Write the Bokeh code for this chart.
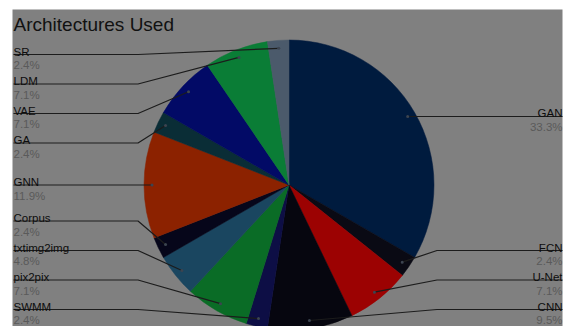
import math
from bokeh.plotting import figure
from bokeh.models import Range1d, ColumnDataSource
from bokeh.core.properties import value
from bokeh.embed import file_html
from bokeh.resources import INLINE

# ---- data (clockwise from 12 o'clock) ----
labels = ["GAN", "FCN", "U-Net", "CNN", "SWMM", "pix2pix", "txtimg2img",
          "Corpus", "GNN", "GA", "VAE", "LDM", "SR"]
counts = [14, 1, 3, 4, 1, 3, 2, 1, 5, 1, 3, 3, 1]
colors = ["#001b3e", "#0a0a14", "#9c0202", "#06060f", "#0d0e45", "#0a6c26",
          "#1a4660", "#06061a", "#8c2200", "#0a2d36", "#020a66", "#0a7d36",
          "#4b5a6b"]
title_text = "Architectures Used"

# ---- layout constants (reference pixel space, y downwards) ----
CX, CY, R = 288.5, 184.5, 145.0
DOT_F = 0.945
GAP = 29.5
TOP_BOUND, BOTTOM_BOUND = 54.0, 309.0
LEFT_X, RIGHT_X = 13.0, 562.0
FONT = value("Liberation Sans")

total = sum(counts)
starts, ends, mids = [], [], []
acc = 0.0
for c in counts:
    t0 = 2 * math.pi * acc / total
    acc += c
    t1 = 2 * math.pi * acc / total
    starts.append(math.pi / 2 - t0)
    ends.append(math.pi / 2 - t1)
    mids.append((t0 + t1) / 2)

pcts = [f"{100 * c / total:.1f}%" for c in counts]
dot_x = [CX + DOT_F * R * math.sin(t) for t in mids]
dot_y = [CY - DOT_F * R * math.cos(t) for t in mids]  # downward ref coords


def spread(idx):
    idx = sorted(idx, key=lambda i: dot_y[i])
    ys = []
    prev = -1e9
    for i in idx:
        y = max(dot_y[i], prev + GAP, TOP_BOUND)
        ys.append(y)
        prev = y
    nxt = 1e9
    for k in range(len(idx) - 1, -1, -1):
        ys[k] = min(ys[k], nxt - GAP, BOTTOM_BOUND)
        nxt = ys[k]
    return dict(zip(idx, ys))


left_idx = [i for i, t in enumerate(mids) if t >= math.pi]
right_idx = [i for i, t in enumerate(mids) if t < math.pi]
label_y = {}
label_y.update(spread(left_idx))
label_y.update(spread(right_idx))

p = figure(width=563, height=326, x_range=Range1d(12, 562),
           y_range=Range1d(-326, -9), min_border_left=12, min_border_right=1,
           min_border_top=9, min_border_bottom=0, toolbar_location=None,
           output_backend="svg", x_axis_type=None, y_axis_type=None,
           background_fill_color="#808080", border_fill_color="#ffffff",
           outline_line_color=None)
p.grid.visible = False

p.wedge(x=CX, y=-CY, radius=R, start_angle=starts, end_angle=ends,
        direction="clock", fill_color=colors, line_color=colors, line_width=0.5)

xs, ys = [], []
for i in range(len(labels)):
    ly = label_y[i]
    if i in left_idx:
        ex = CX - R - 6
        xs.append([LEFT_X, ex, dot_x[i]])
        ys.append([-ly, -ly, -dot_y[i]])
    else:
        ex = CX + R + 3
        xs.append([dot_x[i], ex, RIGHT_X + 2])
        ys.append([-dot_y[i], -ly, -ly])
p.multi_line(xs, ys, line_color="#1c1c1c", line_width=1.2)
p.scatter(dot_x, [-y for y in dot_y], size=3, color="#3c4450", line_color=None)

name_src = ColumnDataSource(dict(
    x=[LEFT_X if i in left_idx else RIGHT_X for i in range(len(labels))],
    y=[-(label_y[i] - 3) for i in range(len(labels))],
    t=labels,
    a=["left" if i in left_idx else "right" for i in range(len(labels))]))
pct_src = ColumnDataSource(dict(
    x=[LEFT_X if i in left_idx else RIGHT_X for i in range(len(labels))],
    y=[-(label_y[i] + 10.5) for i in range(len(labels))],
    t=pcts,
    a=["left" if i in left_idx else "right" for i in range(len(labels))]))
p.text(x="x", y="y", text="t", text_align="a", source=name_src,
       text_baseline="alphabetic", text_font=FONT, text_font_size="11.5px",
       text_color="#0d0d0d")
p.text(x="x", y="y", text="t", text_align="a", source=pct_src,
       text_baseline="alphabetic", text_font=FONT, text_font_size="11.5px",
       text_color="#5a5a5a")

p.text(x=[13], y=[-23.5], text=[title_text], text_baseline="alphabetic",
       text_font=FONT, text_font_size="19px", text_color="#111111")

open("out.html", "w").write(file_html(p, INLINE))
